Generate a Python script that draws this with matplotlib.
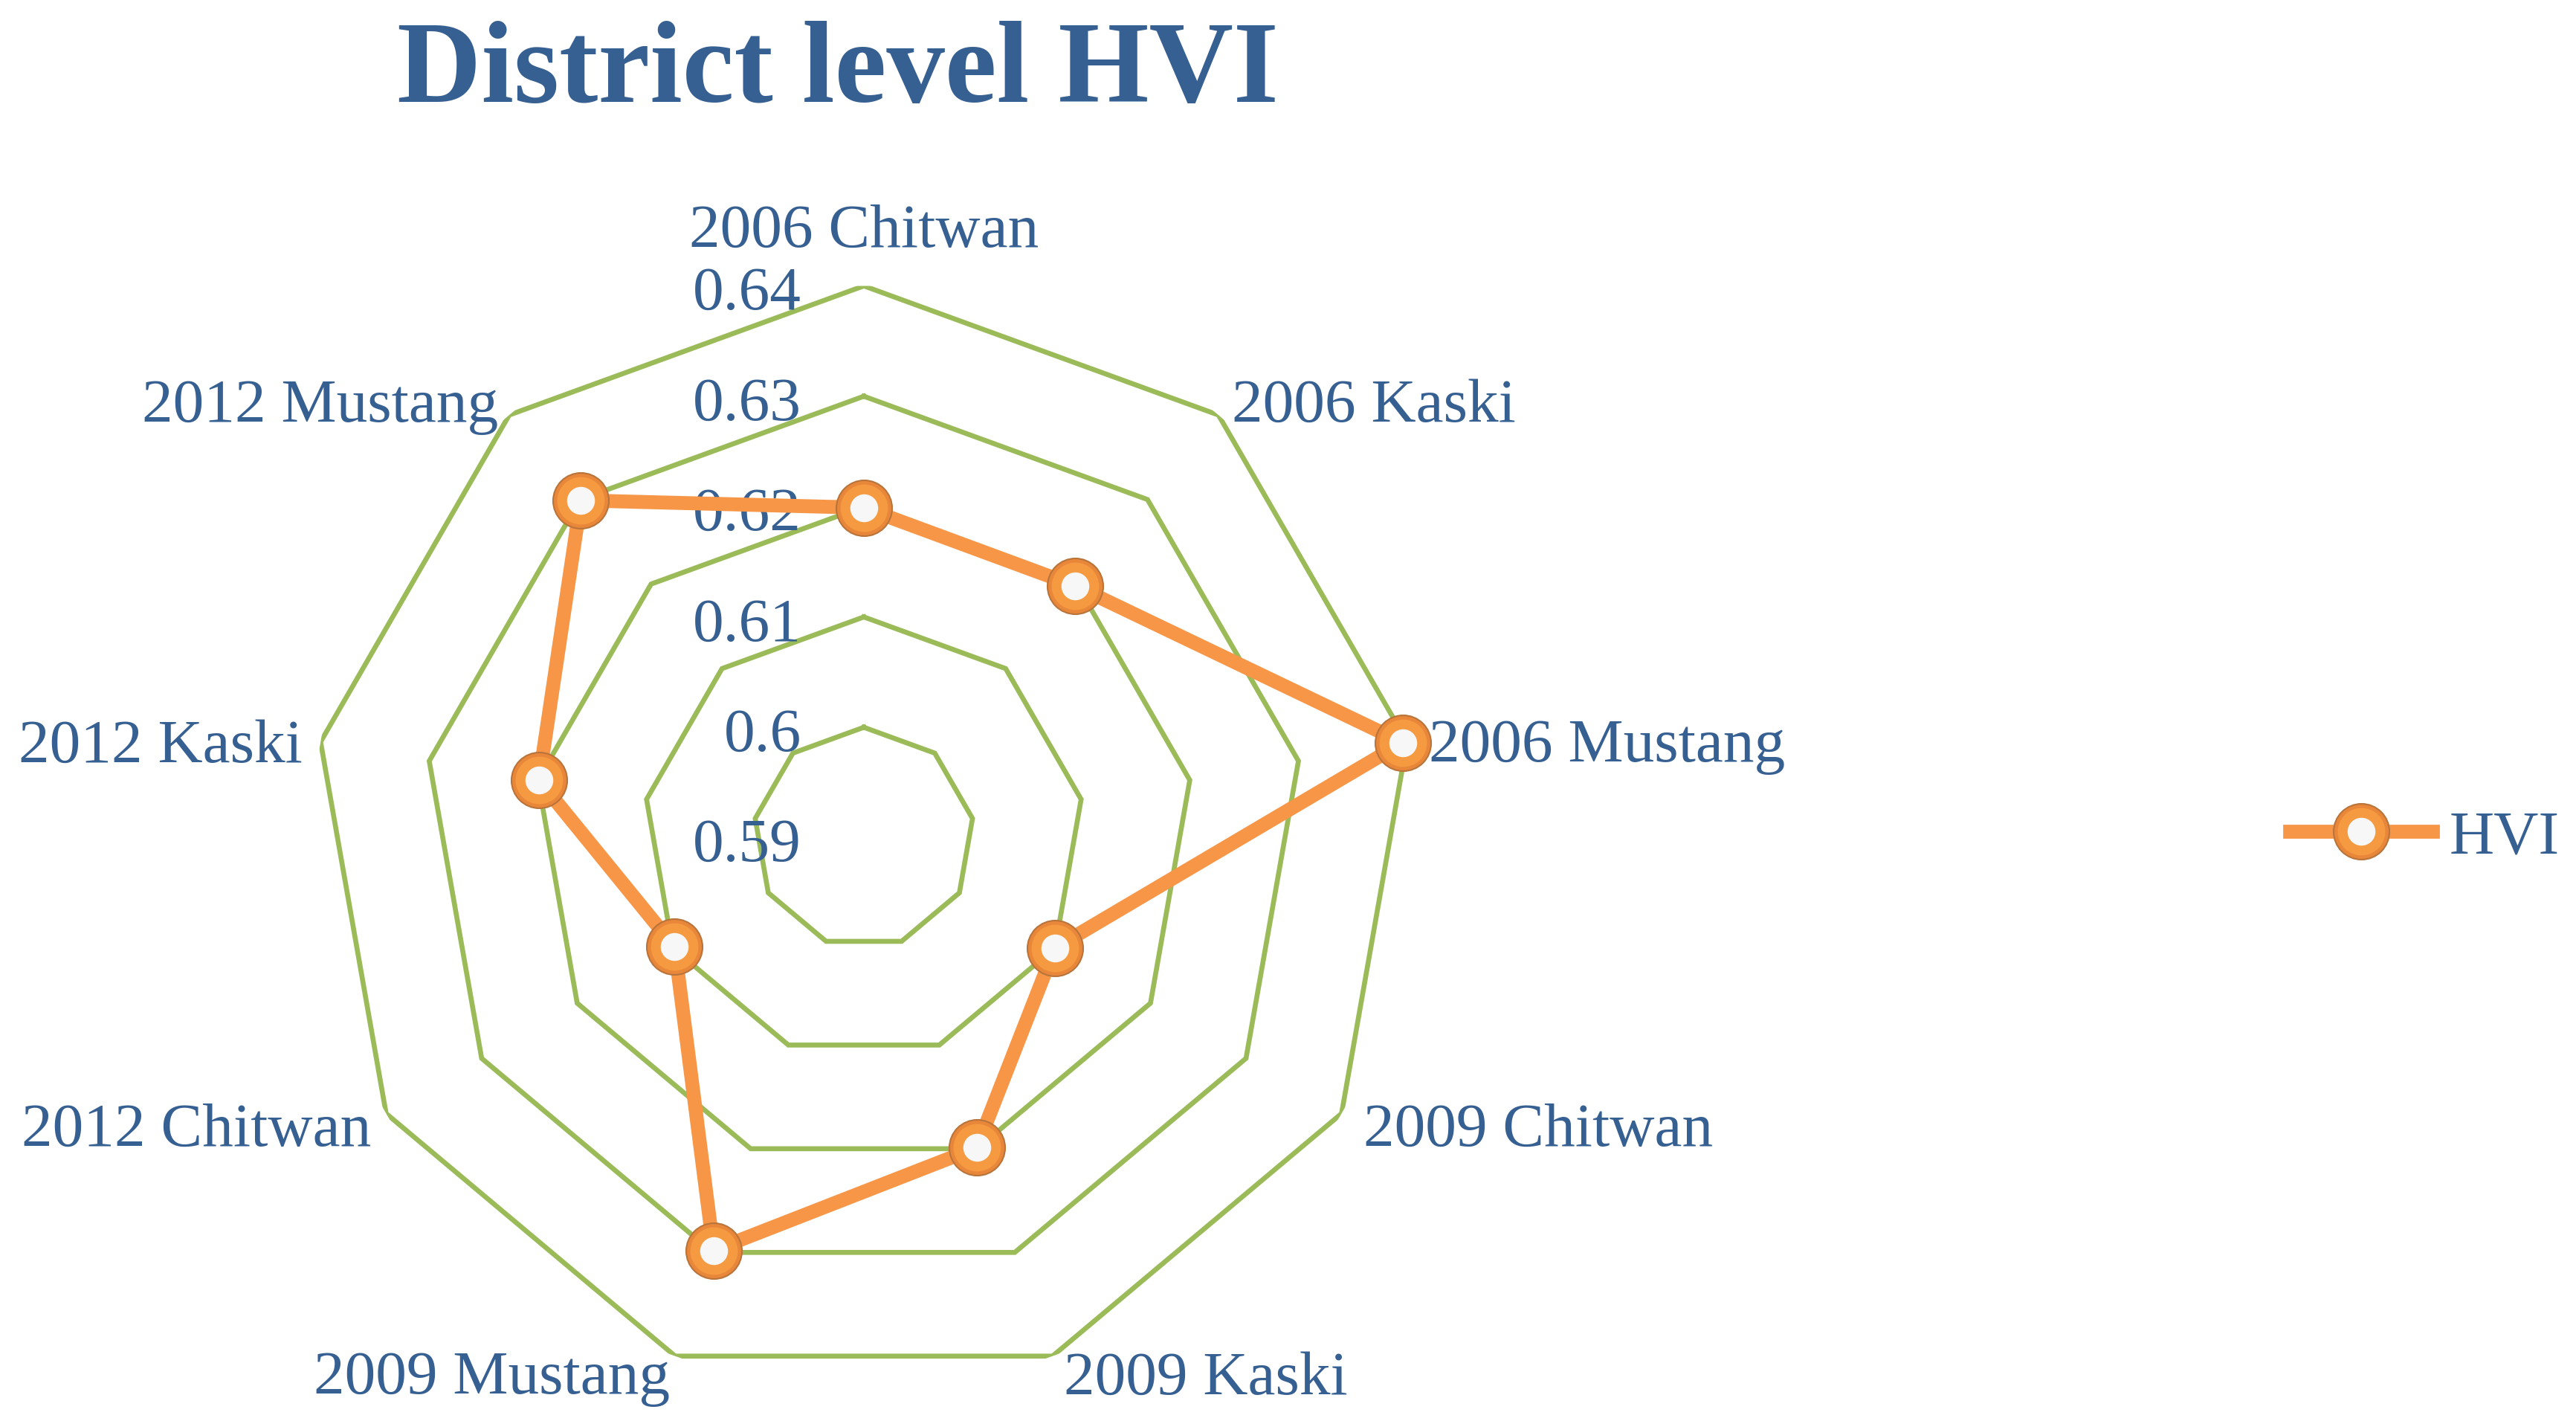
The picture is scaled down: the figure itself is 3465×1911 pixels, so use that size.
import numpy as np
import matplotlib.pyplot as plt
from matplotlib.legend_handler import HandlerTuple

categories = ['2006 Chitwan', '2006 Kaski', '2006 Mustang', '2009 Chitwan', '2009 Kaski',
              '2009 Mustang', '2012 Chitwan', '2012 Kaski', '2012 Mustang']
hvi = [0.6199, 0.6198, 0.6396, 0.6100, 0.6199, 0.6298, 0.6098, 0.6199, 0.6299]
rticks = [0.59, 0.60, 0.61, 0.62, 0.63, 0.64]
rtick_labels = ['0.59', '0.6', '0.61', '0.62', '0.63', '0.64']

txt = '#376092'
green = '#9BBB59'
orange = '#F79646'
plt.rcParams['font.family'] = ['Liberation Serif', 'DejaVu Serif']

fig = plt.figure(figsize=(34.65, 19.11), dpi=100)
ax = fig.add_axes([0.1212, 0.02224, 0.42828, 0.77656], projection='polar')
ax.set_theta_zero_location('N')
ax.set_theta_direction(-1)
ax.set_ylim(0.59, 0.64)
ax.grid(False)
ax.spines['polar'].set_visible(False)
ax.set_xticks([])
ax.set_yticks([])
ax.patch.set_alpha(0)

n = len(categories)
theta = np.arange(n) * 2 * np.pi / n
tc = np.append(theta, theta[0])

# nonagon grid rings
for lv in rticks[1:]:
    ax.plot(tc, [lv] * (n + 1), color=green, lw=4.8, solid_joinstyle='miter', zorder=1)

# tick labels along the top spoke
for lv, lab in zip(rticks, rtick_labels):
    ax.annotate(lab, xy=(0, lv), xytext=(-84, -12), textcoords='offset pixels',
                ha='right', va='center', fontsize=60, color=txt, zorder=2)

# category labels
offs = [(0, 72, 'center'), (18, 11, 'left'), (29, -7, 'left'), (29, -24, 'left'), (15, -31, 'left'),
        (-7, -31, 'right'), (-20, -24, 'right'), (-24, -7, 'right'), (-15, 11, 'right')]
for t, lab, (dx, dy, ha) in zip(theta, categories, offs):
    ax.annotate(lab, xy=(t, 0.64), xytext=(dx, dy), textcoords='offset pixels',
                ha=ha, va='center', fontsize=60, color=txt, annotation_clip=False)

vals = np.append(hvi, hvi[0])
ln, = ax.plot(tc, vals, color=orange, lw=13.5, zorder=3, solid_joinstyle='round')
mk, = ax.plot(theta, hvi, ls='none', marker='o', ms=54, mfc='#E8863A', mec='#B8743A',
              mew=1.5, zorder=4)
hl, = ax.plot(theta, hvi, ls='none', marker='o', ms=46, mfc='#F59A40', mec='none', zorder=4)
wd, = ax.plot(theta, hvi, ls='none', marker='o', ms=27, mfc='#F7F7F7', mec='none', zorder=5)
for o in (ln, mk, hl, wd):
    o.set_clip_on(False)

fig.text(0.3253, 0.9285, 'District level HVI', ha='center', va='baseline',
         fontsize=113, fontweight='bold', color=txt)

fig.legend([(ln, mk, hl, wd)], ['HVI'], handler_map={tuple: HandlerTuple(ndivide=1)},
           loc='center left', bbox_to_anchor=(0.8889, 0.4103), frameon=False,
           fontsize=60, labelcolor=txt, handlelength=2.3, handletextpad=0.28,
           borderpad=0, borderaxespad=0)

fig.savefig('out.png', dpi=100, facecolor='white')
